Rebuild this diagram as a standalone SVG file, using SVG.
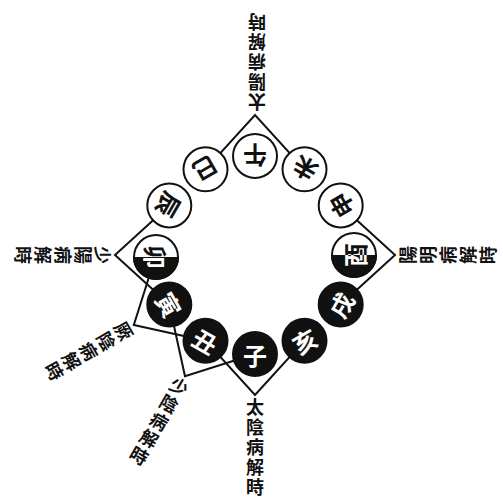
<svg xmlns="http://www.w3.org/2000/svg" width="503" height="502" viewBox="0 0 503 502">
<style>
.bg{fill:#fff}
.arm{fill:none;stroke:#111;stroke-width:2;stroke-linejoin:miter}
.w{fill:#fff;stroke:#111;stroke-width:2}
.b{fill:#111;stroke:#111;stroke-width:2}
.ct{font-family:"Noto Sans CJK TC","Noto Sans CJK SC",sans-serif;font-size:24px;font-weight:700;text-anchor:middle;dominant-baseline:central}
.ck{fill:#111}
.cw{fill:#fff}
.lbl{font-family:"Noto Sans CJK TC","Noto Sans CJK SC",sans-serif;font-size:18px;font-weight:700;fill:#111;writing-mode:vertical-rl;text-orientation:upright;letter-spacing:2px;dominant-baseline:central}
</style>
<defs>
<clipPath id="lower" clipPathUnits="userSpaceOnUse"><rect x="-26" y="0" width="52" height="26"/></clipPath>
</defs>
<rect class="bg" x="0" y="0" width="503" height="502"/>
<g id="connectors">
<polyline class="arm" points="205.5,169.3 255,115 304.5,169.3"/>
<polyline class="arm" points="340.7,205.5 395,255 340.7,304.5"/>
<polyline class="arm" points="304.5,340.7 255,395 205.5,340.7"/>
<polyline class="arm" points="255,354 185,376.2 169.3,304.5"/>
<polyline class="arm" points="205.5,340.7 133.8,325 156,255"/>
<polyline class="arm" points="169.3,304.5 115,255 169.3,205.5"/>
</g>
<g id="wu" transform="translate(255,156)"><circle class="w" r="22"/><text class="ct ck" transform="rotate(180)">午</text></g>
<g id="wei" transform="translate(304.5,169.3)"><circle class="w" r="22"/><text class="ct ck" transform="rotate(-150)">未</text></g>
<g id="shen" transform="translate(340.7,205.5)"><circle class="w" r="22"/><text class="ct ck" transform="rotate(-120)">申</text></g>
<g id="you" transform="translate(354,255)"><circle class="w" r="22"/><text class="ct ck" transform="rotate(-90)">酉</text><g clip-path="url(#lower)"><circle class="b" r="22"/><text class="ct cw" transform="rotate(-90)">酉</text></g></g>
<g id="xu" transform="translate(340.7,304.5)"><circle class="b" r="22"/><text class="ct cw" transform="rotate(-60)">戌</text></g>
<g id="hai" transform="translate(304.5,340.7)"><circle class="b" r="22"/><text class="ct cw" transform="rotate(-30)">亥</text></g>
<g id="zi" transform="translate(255,354)"><circle class="b" r="22"/><text class="ct cw">子</text></g>
<g id="chou" transform="translate(205.5,340.7)"><circle class="b" r="22"/><text class="ct cw" transform="rotate(30)">丑</text></g>
<g id="yin" transform="translate(169.3,304.5)"><circle class="b" r="22"/><text class="ct cw" transform="rotate(60)">寅</text></g>
<g id="mao" transform="translate(156,257)"><circle class="w" r="22"/><text class="ct ck" transform="rotate(90)">卯</text><g clip-path="url(#lower)"><circle class="b" r="22"/><text class="ct cw" transform="rotate(90)">卯</text></g></g>
<g id="chen" transform="translate(169.3,205.5)"><circle class="w" r="22"/><text class="ct ck" transform="rotate(120)">辰</text></g>
<g id="si" transform="translate(205.5,169.3)"><circle class="w" r="22"/><text class="ct ck" transform="rotate(150)">巳</text></g>
<g id="label-taiyang" transform="translate(257,115) rotate(180)"><text class="lbl" x="0" y="4">太陽病解時</text></g>
<g id="label-yangming" transform="translate(395,255) rotate(-90)"><text class="lbl" x="0" y="4">陽明病解時</text></g>
<g id="label-taiyin" transform="translate(255,395) rotate(0)"><text class="lbl" x="0" y="3">太陰病解時</text></g>
<g id="label-shaoyin" transform="translate(185,376.2) rotate(30)"><text class="lbl" x="0" y="3">少陰病解時</text></g>
<g id="label-jueyin" transform="translate(133.8,325) rotate(60)"><text class="lbl" x="0" y="3">厥陰病解時</text></g>
<g id="label-shaoyang" transform="translate(115,255) rotate(90)"><text class="lbl" x="0" y="3">少陽病解時</text></g>
</svg>
